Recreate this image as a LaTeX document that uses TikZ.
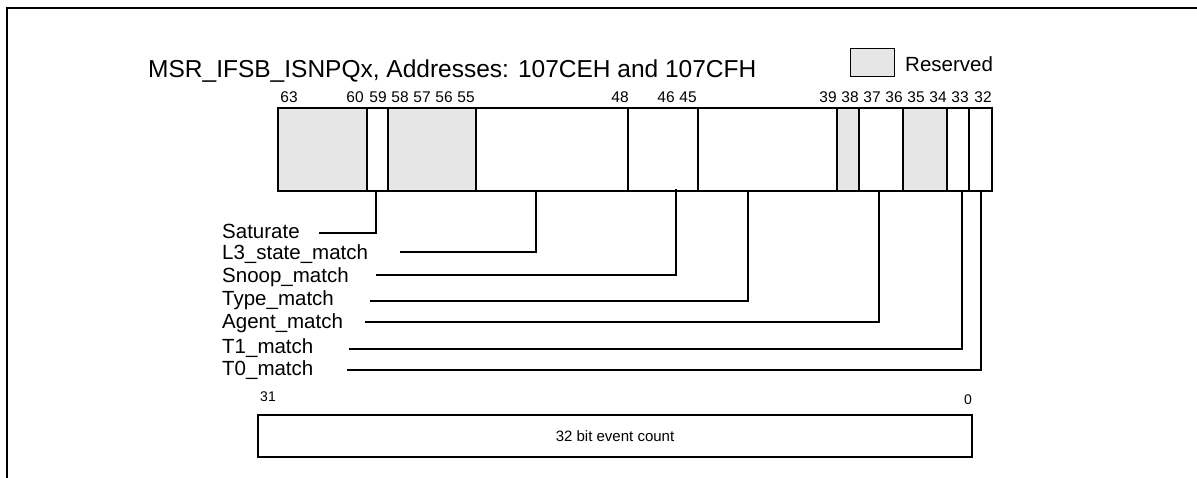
\documentclass[tikz,border=0pt]{standalone}
\usepackage{fontspec}
\setmainfont{Liberation Sans}
\definecolor{resgray}{RGB}{230,230,230}
\tikzset{
  thick frame/.style={line width=2.6pt},
  divider/.style={line width=1.2pt},
  conn/.style={line width=1.2pt},
  bitnum/.style={inner sep=0pt, font=\fontsize{15.5}{18}\selectfont},
  fieldlabel/.style={inner sep=0pt, anchor=base west, font=\fontsize{20.5}{24}\selectfont},
  smallnum/.style={inner sep=0pt, font=\fontsize{14}{16}\selectfont},
}
\begin{document}
\begin{tikzpicture}[x=1pt,y=-1pt]
\useasboundingbox (0,0) rectangle (1197,477);
% outer frame (left and top only)
\draw[thick frame] (7,480) -- (7,8) -- (1200,8);
% title
\node[inner sep=0pt, anchor=base west, font=\fontsize{24.5}{28}\selectfont] (title) at (148,77) {MSR\_IFSB\_ISNPQx, Addresses: 107CEH and 107CFH};
% legend
\draw[fill=resgray, line width=1pt] (850,48) rectangle (894,76);
\node[inner sep=0pt, anchor=base west, font=\fontsize{20.5}{24}\selectfont] (reserved) at (905,71) {Reserved};
% register fields
\fill[resgray] (278,108) rectangle (367,191);
\fill[resgray] (388,108) rectangle (476,191);
\fill[resgray] (837,108) rectangle (859,191);
\fill[resgray] (903,108) rectangle (947,191);
\foreach \x in {367,388,476,628,698,837,859,903,947,969}
  \draw[divider] (\x,108) -- (\x,191);
\draw[thick frame] (278,108) rectangle (992,191);
% bit numbers
\foreach \n/\x in {63/289,60/355,59/378,58/400,57/422,56/444,55/466,48/620,46/666,45/688,39/828,38/850,37/872,36/894,35/916,34/938,33/960,32/983}
  \node[bitnum] (b\n) at (\x,97.5) {\n};
% field labels
\node[fieldlabel] (sat)   at (222,238) {Saturate};
\node[fieldlabel] (l3)    at (222,259) {L3\_state\_match};
\node[fieldlabel] (snoop) at (222,282) {Snoop\_match};
\node[fieldlabel] (type)  at (222,305) {Type\_match};
\node[fieldlabel] (agent) at (222,328) {Agent\_match};
\node[fieldlabel] (tone)  at (222,353) {T1\_match};
\node[fieldlabel] (tzero) at (222,375) {T0\_match};
% connector anchors
\coordinate (satS)   at (319,233);  \coordinate (satF)   at (376,191);
\coordinate (l3S)    at (400,252);  \coordinate (l3F)    at (536,191);
\coordinate (snoopS) at (376,275);  \coordinate (snoopF) at (676,189);
\coordinate (typeS)  at (370,301);  \coordinate (typeF)  at (748,191);
\coordinate (agentS) at (365,322);  \coordinate (agentF) at (879,191);
\coordinate (toneS)  at (349,349);  \coordinate (toneF)  at (962,191);
\coordinate (tzeroS) at (347,370);  \coordinate (tzeroF) at (981,191);
\draw[conn] (satS) -| (satF);
\draw[conn] (l3S) -| (l3F);
\draw[conn] (snoopS) -| (snoopF);
\draw[conn] (typeS) -| (typeF);
\draw[conn] (agentS) -| (agentF);
\draw[conn] (toneS) -| (toneF);
\draw[conn] (tzeroS) -| (tzeroF);
% lower register
\node[smallnum] (b31) at (268,397) {31};
\node[smallnum] (b0) at (968,400) {0};
\draw[thick frame] (258,415) rectangle (972,457);
\node[inner sep=0pt, font=\fontsize{15}{18}\selectfont] (count) at (615,436) {32 bit event count};
\end{tikzpicture}
\end{document}
